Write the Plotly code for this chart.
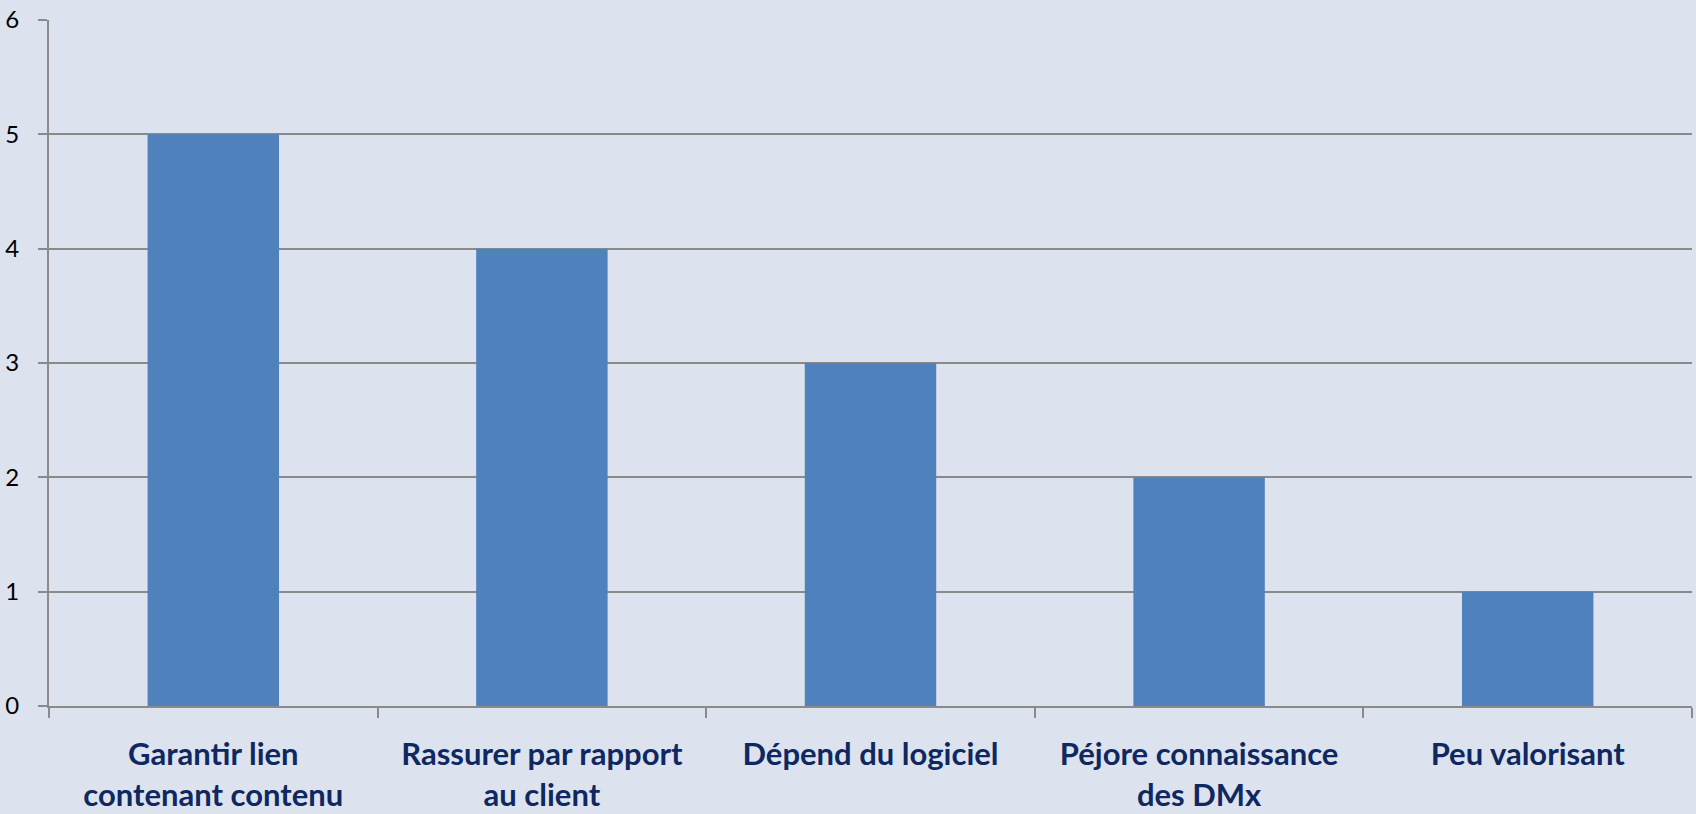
import plotly.graph_objects as go

categories = [
    "Garantir lien<br>contenant contenu",
    "Rassurer par rapport<br>au client",
    "Dépend du logiciel",
    "Péjore connaissance<br>des DMx",
    "Peu valorisant",
]
values = [5, 4, 3, 2, 1]
y_ticks = [0, 1, 2, 3, 4, 5, 6]

BG = "#dce3ef"

fig = go.Figure(
    go.Bar(
        x=categories,
        y=values,
        marker=dict(color="#4f81bd", line=dict(width=0)),
        hoverinfo="skip",
    )
)

fig.update_layout(
    width=1696,
    height=814,
    margin=dict(l=49, r=4, t=20, b=108, autoexpand=False),
    paper_bgcolor=BG,
    plot_bgcolor="rgba(0,0,0,0)",
    bargap=0.6,
    showlegend=False,
    font=dict(family="Lato, Open Sans, sans-serif"),
)

fig.update_xaxes(
    showline=True,
    linecolor="#8a8a8a",
    linewidth=2,
    ticks="outside",
    ticklen=10,
    tickwidth=2,
    tickcolor="#8a8a8a",
    tickson="boundaries",
    showgrid=False,
    tickfont=dict(family="Lato, sans-serif", size=31, color="#0f285f", weight="bold"),
    ticklabelstandoff=20,
)

fig.update_yaxes(
    range=[0, 6],
    tickvals=y_ticks,
    showline=True,
    linecolor="#8a8a8a",
    linewidth=2,
    ticks="outside",
    ticklen=9,
    tickwidth=2,
    tickcolor="#8a8a8a",
    showgrid=True,
    gridcolor="#8a8a8a",
    gridwidth=2,
    zeroline=False,
    tickfont=dict(family="Lato, sans-serif", size=24, color="#000000"),
    ticklabelstandoff=14,
)

fig.write_html(
    "out.html",
    config={"displayModeBar": False},
    post_script=(
        "document.body.style.margin='0';"
        "document.body.style.padding='0';"
        "document.body.style.overflow='hidden';"
        f"document.body.style.background='{BG}';"
    ),
)
